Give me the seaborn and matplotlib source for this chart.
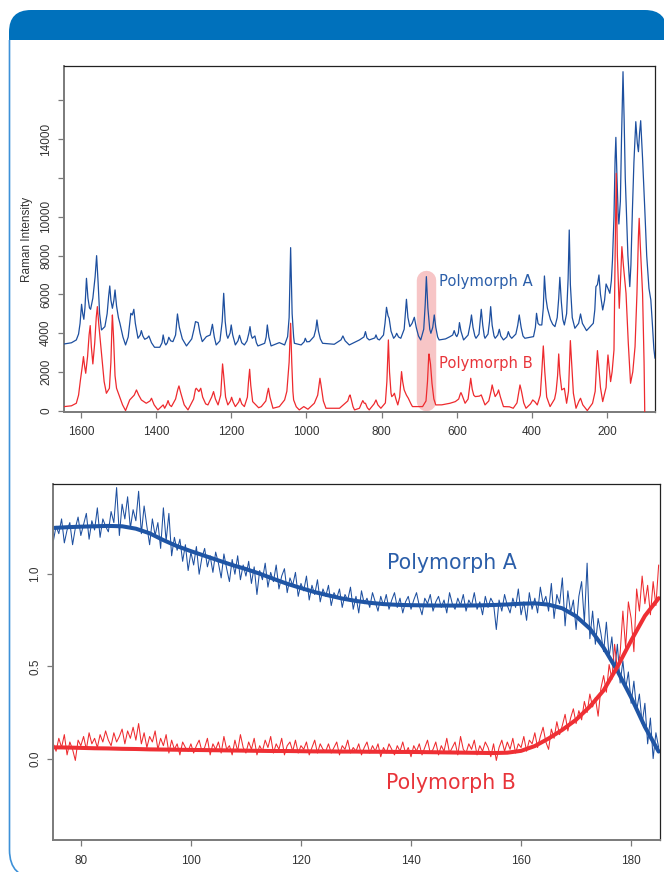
import numpy as np
import seaborn as sns
import matplotlib
matplotlib.use("Agg")
import matplotlib.pyplot as plt
from matplotlib.patches import FancyBboxPatch, Rectangle

# --- Raman spectra: vertices (wavenumber cm-1, intensity) ---
wn_a = [1644, 1625, 1612, 1606, 1602, 1598, 1595, 1592, 1589, 1585, 1581, 1577, 1574, 1568,
        1562, 1558, 1554, 1550, 1545, 1536, 1530, 1526, 1523, 1520, 1516, 1512, 1509, 1505,
        1500, 1496, 1488, 1481, 1474, 1470, 1467, 1463, 1459, 1455, 1448, 1442, 1439, 1435,
        1430, 1423, 1419, 1412, 1404, 1390, 1384, 1381, 1377, 1374, 1370, 1366, 1361, 1355,
        1348, 1343, 1338, 1330, 1319, 1305, 1299, 1295, 1288, 1283, 1277, 1266, 1256, 1250,
        1245, 1240, 1230, 1224, 1220, 1216, 1212, 1209, 1203, 1200, 1196, 1189, 1182, 1178,
        1172, 1165, 1158, 1153, 1150, 1147, 1144, 1140, 1137, 1133, 1129, 1111, 1107, 1104,
        1100, 1094, 1072, 1058, 1050, 1046, 1042, 1038, 1034, 1032, 1014, 1006, 1003, 999,
        992, 980, 975, 972, 968, 963, 957, 926, 908, 903, 897, 886, 859, 847, 843, 839, 833,
        818, 815, 811, 806, 795, 791, 787, 783, 780, 775, 768, 763, 760, 755, 749, 740, 737,
        734, 730, 725, 719, 713, 708, 702, 696, 688, 684, 681, 677, 672, 669, 664, 660, 656,
        651, 647, 630, 618, 611, 607, 603, 600, 596, 593, 589, 582, 570, 564, 561, 557, 552,
        549, 541, 538, 535, 531, 527, 525, 517, 513, 510, 506, 501, 498, 491, 487, 483, 476,
        467, 463, 459, 454, 443, 438, 434, 429, 424, 419, 396, 391, 388, 384, 380, 374, 370,
        367, 363, 359, 351, 345, 339, 333, 329, 326, 322, 318, 314, 308, 304, 301, 298, 293,
        286, 276, 271, 266, 255, 237, 233, 230, 226, 222, 218, 212, 207, 203, 198, 193, 189,
        186, 182, 179, 177, 174, 171, 169, 165, 162, 158, 155, 152, 149, 145, 140, 137, 133,
        129, 124, 120, 117, 114, 111, 106, 100, 95, 89, 84, 80, 76, 73]
int_a = [3440, 3500, 3646, 3950, 4500, 5484, 5000, 4711, 5300, 6824, 5800, 5300, 5226, 5800,
         6900, 7992, 6600, 5000, 4161, 4333, 5000, 5900, 6429, 5700, 5278, 5700, 6223, 5400,
         4800, 4505, 3800, 3388, 3800, 4500, 5020, 4934, 5226, 4500, 3732, 3900, 4127, 3850,
         3680, 3750, 3852, 3500, 3268, 3268, 3500, 3904, 3500, 3388, 3500, 3784, 3600, 3560,
         3900, 4986, 4300, 3700, 3337, 3700, 4200, 4591, 4540, 4000, 3560, 3818, 3900, 4454,
         3800, 3388, 3600, 4600, 6051, 4600, 3900, 3732, 4000, 4419, 3900, 3388, 3600, 3887,
         3500, 3388, 3600, 4000, 4333, 3900, 3732, 3800, 3852, 3500, 3337, 3474, 3800, 4419,
         3800, 3337, 3508, 3388, 3818, 4800, 8405, 5000, 3800, 3474, 3388, 3550, 3732, 3550,
         3560, 3818, 4200, 4677, 4100, 3700, 3474, 3423, 3650, 3852, 3600, 3388, 3646, 3800,
         4075, 3750, 3646, 3750, 3904, 3700, 3646, 3900, 4500, 5329, 4900, 4763, 4100, 3732,
         3850, 3990, 3800, 3732, 4200, 5000, 5742, 4800, 4333, 4500, 4814, 4300, 3850, 3646,
         4200, 5500, 6910, 5300, 4200, 3990, 4300, 4934, 4300, 3800, 3646, 3700, 3818, 3900,
         4127, 3900, 3818, 4000, 4540, 4100, 3646, 3900, 4500, 4934, 4300, 3850, 3732, 3950,
         4600, 5226, 4400, 3850, 3732, 3950, 4600, 5364, 4400, 3850, 3732, 3900, 4196, 3850,
         3646, 3800, 4075, 3850, 3732, 3950, 4400, 4934, 4300, 3850, 3732, 3818, 4300, 5020,
         4500, 4419, 4419, 5300, 6944, 5800, 5278, 4700, 4450, 4333, 4800, 5800, 6876, 5600,
         4700, 4419, 5000, 6800, 9315, 6500, 4800, 4247, 4500, 4986, 4500, 4127, 4505, 5200,
         6395, 6500, 6996, 6000, 5192, 5700, 6532, 6300, 6051, 6700, 7769, 10000, 13000, 14091,
         12000, 10200, 9624, 10800, 14000, 17476, 15000, 12000, 10346, 8000, 6395, 7500, 10346,
         12800, 14899, 13800, 13352, 14300, 14950, 13000, 10346, 8000, 6309, 5707, 4500, 3200,
         2701]

wn_b = [1644, 1625, 1612, 1606, 1601, 1596, 1593, 1590, 1587, 1582, 1578, 1575, 1572, 1568,
        1563, 1559, 1556, 1552, 1545, 1538, 1532, 1524, 1520, 1517, 1516, 1513, 1509, 1505,
        1497, 1489, 1481, 1470, 1458, 1452, 1446, 1439, 1426, 1416, 1412, 1405, 1395, 1381,
        1377, 1371, 1368, 1364, 1359, 1348, 1342, 1339, 1334, 1325, 1315, 1300, 1295, 1293,
        1286, 1281, 1276, 1268, 1262, 1252, 1247, 1242, 1235, 1228, 1225, 1223, 1220, 1215,
        1209, 1202, 1199, 1195, 1189, 1180, 1177, 1172, 1165, 1157, 1154, 1151, 1148, 1143,
        1127, 1120, 1108, 1104, 1101, 1097, 1089, 1072, 1058, 1052, 1050, 1046, 1042, 1039,
        1036, 1034, 1027, 1019, 1007, 996, 979, 970, 966, 964, 961, 955, 948, 912, 890, 886,
        884, 881, 876, 872, 859, 853, 850, 846, 843, 838, 833, 820, 815, 810, 802, 790, 786,
        782, 779, 775, 773, 769, 766, 762, 757, 752, 749, 747, 744, 740, 734, 729, 722, 718,
        691, 682, 678, 675, 674, 670, 666, 661, 656, 640, 618, 604, 595, 591, 589, 586, 578,
        570, 566, 563, 559, 555, 551, 540, 535, 529, 525, 515, 509, 506, 502, 498, 492, 489,
        484, 476, 460, 450, 440, 435, 432, 428, 422, 416, 404, 398, 392, 386, 378, 374, 370,
        366, 361, 352, 340, 336, 332, 329, 326, 321, 314, 308, 303, 300, 298, 295, 290, 283,
        275, 271, 265, 253, 239, 232, 228, 226, 223, 218, 212, 203, 200, 198, 195, 191, 187,
        182, 179, 176, 173, 168, 164, 161, 157, 150, 144, 138, 132, 126, 121, 117, 115, 112,
        106, 102, 100]
int_b = [210, 250, 382, 800, 1584, 2300, 2787, 2300, 1928, 2800, 3900, 4385, 3300, 2409,
         3500, 4800, 5364, 4400, 2958, 1500, 897, 1155, 2500, 4500, 4934, 3800, 1800, 1155,
         725, 300, 4, 553, 800, 1069, 800, 553, 382, 500, 640, 300, 39, 296,
         124, 350, 519, 300, 210, 600, 1100, 1275, 900, 300, 39, 600, 1100, 1155,
         983, 1155, 700, 350, 296, 700, 983, 600, 296, 800, 1800, 2409, 1800, 700,
         296, 500, 691, 450, 210, 450, 640, 350, 210, 700, 1500, 2134, 1300, 467,
         150, 210, 500, 900, 1155, 700, 124, 210, 553, 1000, 1498, 2500, 4505, 2500,
         1000, 553, 200, 39, 210, 73, 382, 800, 1400, 1670, 1300, 500, 124, 124, 500, 750,
         811, 600, 200, 39, 124, 400, 519, 380, 382, 150, 39, 350, 553, 300, 124, 400, 1500,
         3646, 2000, 900, 725, 800, 897, 600, 296, 700, 1500, 2013, 1500, 1069, 800, 640, 350, 210,
         210, 500, 1500, 2700, 2924, 2400, 1400, 600, 296, 300, 382, 467, 600, 850, 932, 800, 382,
         600, 1200, 1670, 1100, 800, 725, 750, 811, 500, 296, 500, 1000, 1326, 1000, 725, 900, 1069,
         700, 210, 200, 124, 400, 1000, 1326, 1000, 400, 124, 350, 553, 450, 296, 800, 2000, 3337,
         2000, 700, 210, 600, 983, 1800, 2924, 1900, 1069, 1155, 382, 1000, 2500, 3612, 2600, 900, 124,
         500, 640, 300, 4, 382, 1000, 2500, 3096, 2400, 1200, 467, 1200, 2300, 2872, 2300, 1498, 2000,
         3130, 8000, 12236, 8000, 5278, 7000, 8456, 7500, 6051, 3500, 1412, 2000, 3302, 6000, 9000, 9916, 8500,
         6051, 2500, -300]

# --- bottom panel: traces every 0.5 units from 75 to 185 ---
trace_x = np.arange(75, 185.01, 0.5)
trace_a = [1.18, 1.26, 1.22, 1.30, 1.17, 1.24, 1.28, 1.16, 1.25, 1.31,
           1.21, 1.27, 1.33, 1.19, 1.29, 1.24, 1.36, 1.20, 1.30, 1.26,
           1.23, 1.34, 1.28, 1.47, 1.21, 1.38, 1.30, 1.42, 1.25, 1.35,
           1.29, 1.45, 1.22, 1.37, 1.26, 1.16, 1.30, 1.21, 1.28, 1.14,
           1.36, 1.18, 1.33, 1.10, 1.20, 1.13, 1.19, 1.07, 1.16, 1.02,
           1.12, 1.05, 1.15, 1.00, 1.09, 1.14, 1.04, 1.10, 1.01, 1.12,
           1.06, 0.98, 1.11, 1.03, 0.96, 1.08, 1.00, 1.10, 0.97, 1.05,
           0.99, 1.07, 0.95, 1.04, 0.89, 1.02, 0.97, 1.06, 0.93, 1.01,
           0.96, 1.05, 0.92, 0.99, 1.03, 0.90, 0.98, 0.94, 1.01, 0.88,
           0.95, 0.91, 0.99, 0.86, 0.94, 0.89, 0.97, 0.85, 0.92, 0.88,
           0.94, 0.83, 0.90, 0.87, 0.92, 0.82, 0.89, 0.86, 0.93, 0.81,
           0.88, 0.79, 0.91, 0.84, 0.87, 0.82, 0.90, 0.85, 0.80, 0.88,
           0.83, 0.89, 0.81, 0.86, 0.90, 0.82, 0.87, 0.79, 0.85, 0.88,
           0.81, 0.86, 0.90, 0.83, 0.78, 0.87, 0.84, 0.89, 0.80, 0.85,
           0.88, 0.82, 0.86, 0.79, 0.90, 0.84, 0.81, 0.87, 0.83, 0.89,
           0.80, 0.86, 0.83, 0.90, 0.81, 0.85, 0.78, 0.88, 0.82, 0.87,
           0.84, 0.70, 0.86, 0.80, 0.89, 0.83, 0.79, 0.87, 0.82, 0.92,
           0.78, 0.85, 0.75, 0.90, 0.81, 0.87, 0.79, 0.93, 0.84, 0.88,
           0.80, 0.95, 0.76, 0.89, 0.84, 0.98, 0.72, 0.91, 0.79, 0.86,
           0.70, 0.88, 0.96, 0.74, 1.06, 0.65, 0.80, 0.62, 0.76, 0.68,
           0.58, 0.74, 0.55, 0.66, 0.47, 0.62, 0.41, 0.53, 0.38, 0.47,
           0.30, 0.42, 0.26, 0.35, 0.19, 0.30, 0.08, 0.22, 0.00, 0.14,
           0.06]
trace_b = [0.08, 0.04, 0.11, 0.06, 0.13, 0.02, 0.09, 0.05, -0.01, 0.10,
           0.07, 0.12, 0.05, 0.14, 0.08, 0.11, 0.06, 0.13, 0.09, 0.15,
           0.10, 0.07, 0.14, 0.09, 0.12, 0.16, 0.08, 0.15, 0.11, 0.17,
           0.10, 0.19, 0.08, 0.14, 0.06, 0.12, 0.09, 0.15, 0.05, 0.11,
           0.07, 0.13, 0.03, 0.10, 0.05, 0.08, 0.02, 0.09, 0.06, 0.04,
           0.08, 0.03, 0.07, 0.10, 0.04, 0.06, 0.11, 0.02, 0.08, 0.05,
           0.09, 0.03, 0.12, 0.05, 0.07, 0.02, 0.10, 0.04, 0.13, 0.06,
           0.03, 0.09, 0.05, 0.11, 0.02, 0.07, 0.04, 0.10, 0.06, 0.12,
           0.03, 0.08, 0.05, 0.11, 0.02, 0.07, 0.09, 0.04, 0.10, 0.03,
           0.07, 0.05, 0.09, 0.02, 0.06, 0.10, 0.03, 0.08, 0.05, 0.04,
           0.08, 0.03, 0.06, 0.09, 0.02, 0.07, 0.05, 0.10, 0.03, 0.06,
           0.04, 0.08, 0.02, 0.06, 0.09, 0.03, 0.07, 0.04, 0.08, 0.01,
           0.06, 0.03, 0.08, 0.05, 0.02, 0.07, 0.04, 0.09, 0.03, 0.06,
           0.01, 0.07, 0.04, 0.08, 0.02, 0.06, 0.10, 0.03, 0.05, 0.09,
           0.02, 0.07, 0.04, 0.11, 0.03, 0.06, 0.09, 0.02, 0.12, 0.05,
           0.03, 0.08, 0.05, 0.10, 0.02, 0.07, 0.04, 0.09, 0.06, 0.01,
           0.08, -0.01, 0.06, 0.10, 0.04, 0.09, 0.05, 0.11, 0.03, 0.08,
           0.06, 0.12, 0.04, 0.10, 0.08, 0.14, 0.06, 0.12, 0.17, 0.09,
           0.05, 0.16, 0.11, 0.20, 0.13, 0.18, 0.24, 0.15, 0.22, 0.27,
           0.19, 0.26, 0.21, 0.31, 0.25, 0.35, 0.28, 0.33, 0.23, 0.38,
           0.45, 0.36, 0.51, 0.43, 0.62, 0.48, 0.57, 0.80, 0.60, 0.85,
           0.76, 0.58, 0.92, 0.80, 0.99, 0.84, 0.94, 0.78, 0.96, 0.83,
           1.05]

# smooth fitted curves, every 2.5 units
fit_x = np.arange(75, 185.01, 2.5)
fit_a = [1.251, 1.255, 1.258, 1.260, 1.262, 1.260, 1.247, 1.222, 1.185, 1.152,
         1.125, 1.100, 1.075, 1.050, 1.028, 1.003, 0.975, 0.948, 0.925, 0.903,
         0.885, 0.868, 0.855, 0.845, 0.838, 0.834, 0.832, 0.831, 0.830, 0.830,
         0.830, 0.831, 0.833, 0.836, 0.840, 0.842, 0.835, 0.815, 0.772, 0.705,
         0.602, 0.476, 0.332, 0.172, 0.038]
fit_b = [0.061, 0.060, 0.058, 0.056, 0.055, 0.053, 0.052, 0.050, 0.049, 0.048,
         0.047, 0.046, 0.045, 0.044, 0.043, 0.042, 0.041, 0.041, 0.040, 0.039,
         0.039, 0.038, 0.038, 0.037, 0.037, 0.036, 0.036, 0.035, 0.034, 0.033,
         0.032, 0.031, 0.030, 0.032, 0.042, 0.068, 0.109, 0.156, 0.211, 0.282,
         0.370, 0.498, 0.640, 0.774, 0.870]

blue = "#1d4f9f"
red = "#ee2a2e"
blue_txt = "#2b5ea9"
red_txt = "#e8343a"
axis_grey = "#7a7a7a"

sns.set_theme(style="ticks")
plt.rcParams["font.family"] = ["Liberation Sans", "DejaVu Sans"]

fig = plt.figure(figsize=(6.64, 8.72), dpi=100)

# page decoration in pixel coordinates
bg = fig.add_axes([0, 0, 1, 1])
bg.set_xlim(0, 664)
bg.set_ylim(872, 0)
bg.axis("off")
bg.add_patch(FancyBboxPatch((9, 10), 658, 50, boxstyle="round,pad=0,rounding_size=22",
                            fc="#0071bc", ec="none", zorder=0))
panel = FancyBboxPatch((9.5, -60), 700, 938, boxstyle="round,pad=0,rounding_size=28",
                       fc="white", ec="#3d91d8", lw=1.2, zorder=1)
bg.add_patch(panel)
panel.set_clip_path(Rectangle((0, 40), 664, 832, transform=bg.transData))


def style_axes(ax):
    for side in ["top", "right"]:
        ax.spines[side].set_color("#222222")
        ax.spines[side].set_linewidth(0.9)
    for side in ["left", "bottom"]:
        ax.spines[side].set_color(axis_grey)
        ax.spines[side].set_linewidth(1.4)
    ax.tick_params(axis="both", length=4.3, width=0.9, color=axis_grey,
                   labelsize=8.5, labelcolor="#333333")
    ax.tick_params(axis="x", pad=6)
    ax.tick_params(axis="y", pad=4.5)
    for lbl in ax.get_yticklabels():
        lbl.set_rotation(90)
        lbl.set_va("center")


# --- top: Raman spectra ---
ax1 = fig.add_axes([0.0968, 0.5275, 0.8896, 0.3968])
# highlighted band around the 681 cm-1 peak
ax1.plot([681, 681], [500, 6716], color="#f7c5c6", lw=14, solid_capstyle="round", zorder=1)
sns.lineplot(x=wn_a, y=int_a, ax=ax1, color=blue, lw=0.9, sort=False, estimator=None, zorder=3)
sns.lineplot(x=wn_b, y=int_b, ax=ax1, color=red, lw=0.9, sort=False, estimator=None, zorder=3)
ax1.set_xlim(1644, 73)
ax1.set_ylim(-70, 17770)
ax1.set_xticks(list(range(1600, 199, -200)))
yt = list(range(0, 16001, 2000))
ax1.set_yticks(yt)
ax1.set_yticklabels([str(v) if v not in (12000, 16000) else "" for v in yt])
ax1.set_xlabel("")
ax1.set_ylabel("Raman Intensity", fontsize=8.5, color="#333333", labelpad=5)
style_axes(ax1)
ax1.text(647, 6634, "Polymorph A", color=blue_txt, fontsize=10.6, family="DejaVu Sans",
         ha="left", va="center", zorder=4)
ax1.text(647, 2448, "Polymorph B", color=red_txt, fontsize=10.6, family="DejaVu Sans",
         ha="left", va="center", zorder=4)

# --- bottom: intensity traces with smooth fits ---
ax2 = fig.add_axes([0.0803, 0.0364, 0.9133, 0.4089])
sns.lineplot(x=trace_x, y=trace_a, ax=ax2, color=blue, lw=0.75, sort=False, estimator=None)
sns.lineplot(x=trace_x, y=trace_b, ax=ax2, color=red, lw=0.75, sort=False, estimator=None)
sns.lineplot(x=fit_x, y=fit_a, ax=ax2, color="#1f55a5", lw=2.9, sort=False, estimator=None)
sns.lineplot(x=fit_x, y=fit_b, ax=ax2, color="#ef2f34", lw=2.9, sort=False, estimator=None)
ax2.set_xlim(75, 185.2)
ax2.set_ylim(-0.443, 1.491)
ax2.set_xticks([80, 100, 120, 140, 160, 180])
ax2.set_yticks([0.0, 0.5, 1.0])
ax2.set_yticklabels(["0.0", "0.5", "1.0"])
ax2.set_xlabel("")
ax2.set_ylabel("")
style_axes(ax2)
ax2.text(135.6, 1.061, "Polymorph A", color=blue_txt, fontsize=14.8, family="DejaVu Sans",
         ha="left", va="center")
ax2.text(135.4, -0.132, "Polymorph B", color=red_txt, fontsize=14.8, family="DejaVu Sans",
         ha="left", va="center")

fig.savefig("out.png", dpi=100)
